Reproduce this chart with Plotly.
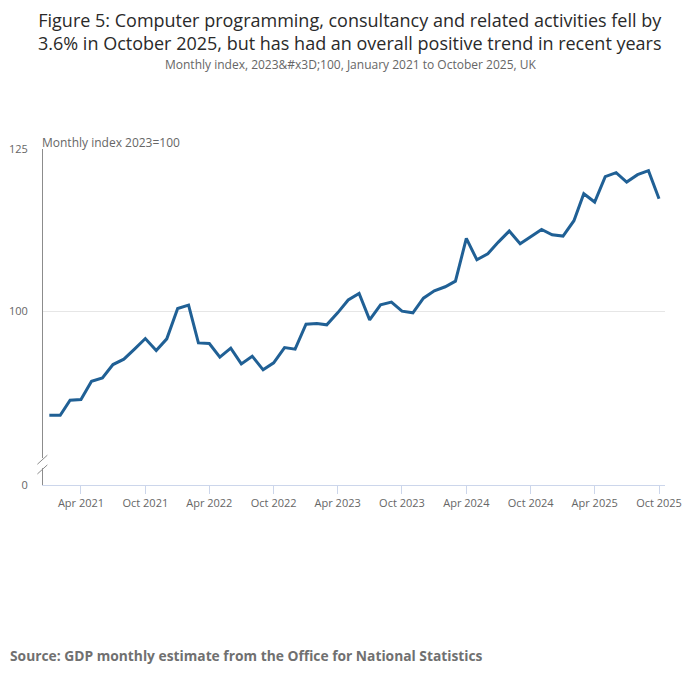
import plotly.graph_objects as go
import pandas as pd

months = pd.date_range("2021-01-01", "2025-10-01", freq="MS")
values = [
    83.95, 83.95, 86.27, 86.37, 89.2, 89.7, 91.77, 92.6, 94.19, 95.78, 93.93, 95.73,
    100.41, 100.93, 95.11, 95.01, 92.9, 94.29, 91.87, 93.06, 90.95, 92.03, 94.39, 94.14,
    97.99, 98.1, 97.89, 99.74, 101.72, 102.73, 98.66, 100.98, 101.39, 100.0, 99.74, 102.0,
    103.14, 103.76, 104.63, 111.21, 107.92, 108.85, 110.65, 112.35, 110.39, 111.52, 112.6, 111.78,
    111.57, 113.94, 118.11, 116.82, 120.73, 121.35, 119.91, 121.04, 121.66, 117.34,
]
x_tick_vals = ["2021-04-01", "2021-10-01", "2022-04-01", "2022-10-01", "2023-04-01", "2023-10-01",
               "2024-04-01", "2024-10-01", "2025-04-01", "2025-10-01"]
x_tick_text = ["Apr 2021", "Oct 2021", "Apr 2022", "Oct 2022", "Apr 2023", "Oct 2023",
               "Apr 2024", "Oct 2024", "Apr 2025", "Oct 2025"]
y_axis_min = 73.2
y_tick_vals = [y_axis_min, 100, 125]
y_tick_text = ["0", "100", "125"]

title = ("Figure 5: Computer programming, consultancy and related activities fell by<br>"
         "3.6% in October 2025, but has had an overall positive trend in recent years")
subtitle = "Monthly index, 2023&amp;#x3D;100, January 2021 to October 2025, UK"
source = "Source: GDP monthly estimate from the Office for National Statistics"
y_label = "Monthly index 2023=100"

FONT = "Open Sans"
GREY = "#666666"

OFF = 8  # page body margin
W, H = 700 - OFF, 682 - OFF
L, T = 43 - OFF, 149 - OFF
R = W - (665 - OFF)
B = H - (485 - OFF)
plot_w, plot_h = W - L - R, H - T - B

def px_x(px):
    return (px - OFF - L) / plot_w

def px_y(px):
    return (H - B - (px - OFF)) / plot_h

fig = go.Figure()
fig.add_trace(go.Scatter(x=months, y=values, mode="lines",
                         line=dict(color="#206095", width=3), hoverinfo="skip"))

fig.update_layout(
    width=W, height=H,
    margin=dict(l=L, r=R, t=T, b=B, autoexpand=False),
    paper_bgcolor="white", plot_bgcolor="white",
    showlegend=False,
    font=dict(family=FONT, color=GREY, size=12),
)
fig.update_xaxes(
    type="date", range=["2020-12-14", "2025-10-18"], automargin=False,
    tickvals=x_tick_vals, ticktext=x_tick_text,
    ticks="outside", ticklen=8, tickcolor="#ccd6eb", tickwidth=1,
    showline=True, linecolor="#ccd6eb", linewidth=1,
    showgrid=False, zeroline=False,
    tickfont=dict(size=11, color=GREY, family=FONT),
)
fig.update_yaxes(
    range=[y_axis_min, 125], tickvals=y_tick_vals, ticktext=y_tick_text, automargin=False,
    showline=True, linecolor="#8c8c8c", linewidth=1,
    showgrid=True, gridcolor="#e6e6e6", gridwidth=1, zeroline=False,
    ticks="outside", ticklen=4, tickcolor="rgba(0,0,0,0)",
    ticklabelstandoff=8,
    tickfont=dict(size=11, color=GREY, family=FONT),
)

# axis break
fig.add_shape(type="rect", xref="paper", yref="y", x0=-0.012, x1=0.012, y0=75.8, y1=77.35,
              fillcolor="white", line=dict(width=0), layer="above")
for ya, yb in [(76.4, 77.8), (74.9, 76.3)]:
    fig.add_shape(type="line", xref="paper", yref="y", x0=-0.009, x1=0.007, y0=ya, y1=yb,
                  line=dict(color="#8c8c8c", width=1), layer="above")

fig.add_annotation(text=title, xref="paper", yref="paper", x=px_x(350), y=px_y(6),
                   xanchor="center", yanchor="top", showarrow=False, align="center",
                   font=dict(family=FONT, size=18, color="#2a2a2a"))
fig.add_annotation(text=subtitle, xref="paper", yref="paper", x=px_x(350), y=px_y(64),
                   showarrow=False, xanchor="center", yanchor="middle",
                   font=dict(family=FONT, size=12, color=GREY))
fig.add_annotation(text=y_label, xref="paper", yref="paper", x=px_x(40), y=px_y(142),
                   showarrow=False, xanchor="left", yanchor="middle",
                   font=dict(family=FONT, size=12, color=GREY))
fig.add_annotation(text="<b>" + source + "</b>", xref="paper", yref="paper", x=px_x(8),
                   y=px_y(655), showarrow=False, xanchor="left", yanchor="middle",
                   font=dict(family=FONT, size=13.8, color="#707070"))

fig.write_html("out.html")
